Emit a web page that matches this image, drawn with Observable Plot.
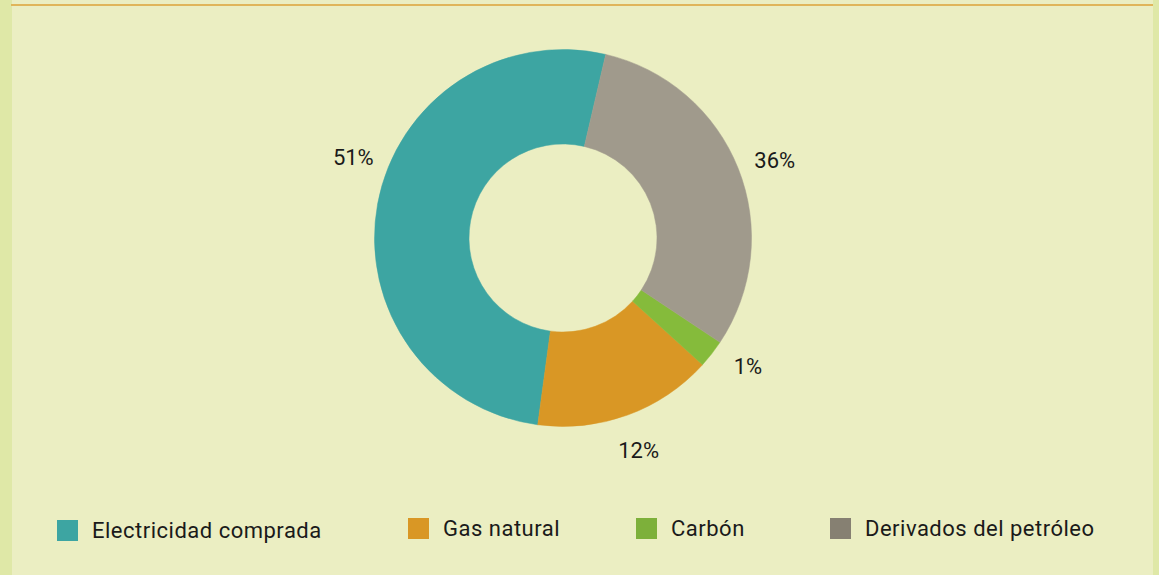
<!DOCTYPE html>
<html>
<head>
<meta charset="utf-8">
<script src="https://cdn.jsdelivr.net/npm/d3@7"></script>
<script src="https://cdn.jsdelivr.net/npm/@observablehq/plot@0.6"></script>
<style>
  html, body { margin: 0; padding: 0; }
  body { width: 1159px; height: 575px; overflow: hidden; font-family: Roboto, "DejaVu Sans", sans-serif; }
  #frame { position: relative; width: 1159px; height: 575px; background: #EBEEC2; }
  #leftStrip { position: absolute; left: 0; top: 0; width: 12px; height: 575px; background: #DFE8A7; }
  #rightStrip { position: absolute; left: 1153px; top: 0; width: 6px; height: 575px; background: #DFE8A7; }
  #topLine { position: absolute; left: 11px; top: 4px; width: 1142px; height: 2px; background: #E0B55A; }
  #chart { position: absolute; left: 0; top: 0; }
  #legend { position: absolute; left: 0; top: 0; width: 1159px; height: 575px; pointer-events: none; }
  .item { position: absolute; display: flex; align-items: center; height: 21px; font-size: 22px; letter-spacing: 0.5px; color: #1a1a1a; white-space: nowrap; }
  .sw { width: 21px; height: 21px; margin-right: 14px; flex: none; }
</style>
</head>
<body>
<div id="frame">
  <div id="leftStrip"></div>
  <div id="rightStrip"></div>
  <div id="topLine"></div>
  <div id="chart"></div>
  <div id="legend"></div>
</div>
<script>
// ---- data ----
const categories = ["Electricidad comprada", "Gas natural", "Carbón", "Derivados del petróleo"];
const shares = [51.5, 15.4, 2.4, 30.7];           // slice sizes
const labels = ["51%", "12%", "1%", "36%"];       // labels as printed on the chart
const sliceColors = ["#3DA5A2", "#D99725", "#85BB3B", "#A09A8C"];
const legendColors = ["#3DA5A2", "#D99725", "#7DB03A", "#868072"];

// ---- layout ----
const W = 1159, H = 480;
const CX = 563, CY = 238, R_OUT = 188.5, R_IN = 94, R_LABEL = 225;
const START_DEG = 13.1;
const labelNudgeDeg = [10.5, 0.5, -3, 1.5];
const legendLeft = [57, 408, 636, 830];
const legendTop = [520, 518, 518, 518];

const rows = categories.map((c, i) => ({category: c, value: shares[i], label: labels[i], color: sliceColors[i], nudge: labelNudgeDeg[i]}));
const rad = Math.PI / 180;
const pie = d3.pie().sort(null).value(d => d.value)
  .startAngle(START_DEG * rad).endAngle(START_DEG * rad - 2 * Math.PI);
const arcs = pie(rows);
const labelPts = arcs.map(a => {
  const ang = (a.startAngle + a.endAngle) / 2 + a.data.nudge * rad;
  return {label: a.data.label, x: CX + R_LABEL * Math.sin(ang), y: CY - R_LABEL * Math.cos(ang)};
});

const donut = (index, scales) => {
  const x = scales.x, y = scales.y;
  const k = x(CX + 1) - x(CX);
  const arcGen = d3.arc().innerRadius(R_IN * k).outerRadius(R_OUT * k);
  const g = d3.create("svg:g").attr("transform", `translate(${x(CX)},${y(CY)})`);
  g.selectAll("path").data(arcs).join("path")
    .attr("d", arcGen)
    .attr("fill", d => d.data.color)
    .attr("stroke", d => d.data.color)
    .attr("stroke-width", 0.5);
  return g.node();
};

const plot = Plot.plot({
  width: W, height: H,
  margin: 0,
  x: {domain: [0, W], range: [0, W], axis: null},
  y: {domain: [0, H], range: [0, H], axis: null},
  style: {background: "transparent", fontFamily: "Roboto, sans-serif", overflow: "visible"},
  marks: [
    donut,
    Plot.text(labelPts, {x: "x", y: "y", text: "label", fontSize: 22, fill: "#1a1a1a", textAnchor: "middle", lineAnchor: "middle"})
  ]
});
document.getElementById("chart").appendChild(plot);

const legend = d3.select("#legend");
categories.forEach((c, i) => {
  const item = legend.append("div").attr("class", "item")
    .style("left", legendLeft[i] + "px").style("top", legendTop[i] + "px");
  item.append("div").attr("class", "sw").style("background", legendColors[i]);
  item.append("span").text(c);
});
</script>
</body>
</html>
